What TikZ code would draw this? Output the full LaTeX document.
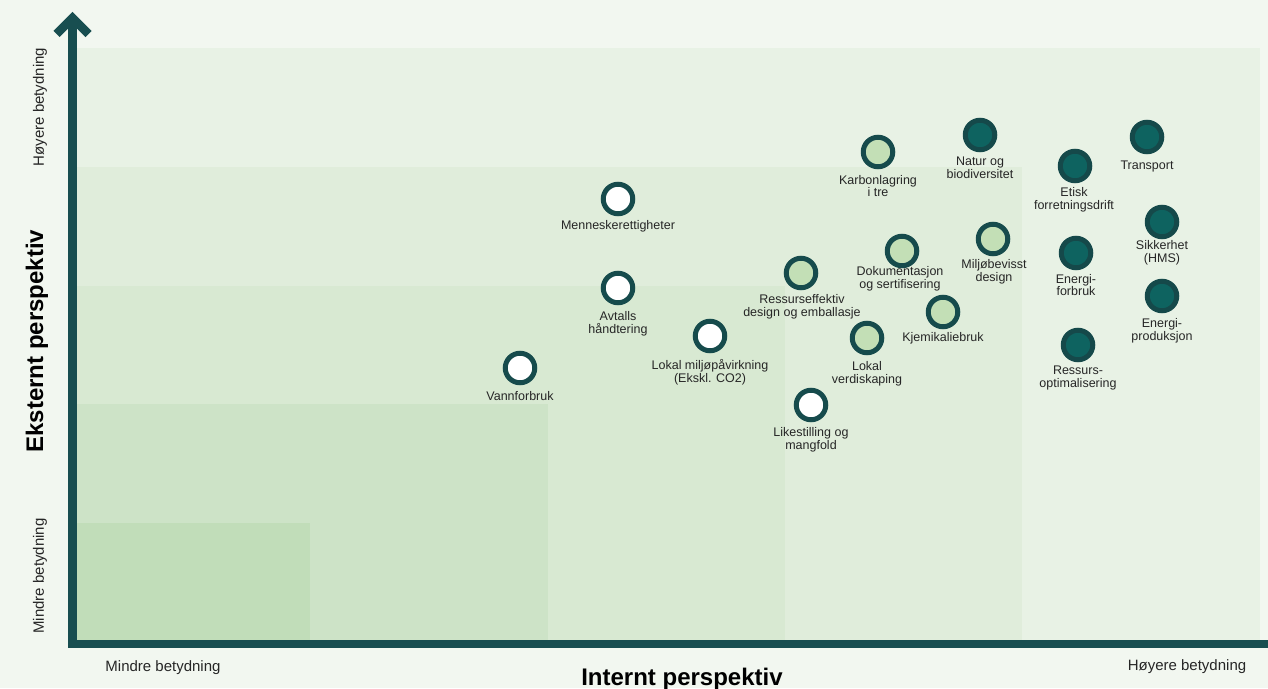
\documentclass[tikz,border=0pt]{standalone}
\usepackage{fontspec}
\setmainfont{Liberation Sans}
\definecolor{bgc}{HTML}{F2F7F0}
\definecolor{zoneA}{HTML}{E8F2E5}
\definecolor{zoneB}{HTML}{E0EDDB}
\definecolor{zoneC}{HTML}{D8E9D2}
\definecolor{zoneD}{HTML}{CDE3C7}
\definecolor{zoneE}{HTML}{C1DDB9}
\definecolor{axisc}{HTML}{184E50}
\definecolor{ringc}{HTML}{164B4C}
\definecolor{lightfill}{HTML}{C3DFB6}
\definecolor{darkfill}{HTML}{0E6360}
\definecolor{darkring}{HTML}{15494A}
\definecolor{txtc}{HTML}{262626}
\begin{document}
\begin{tikzpicture}[x=1pt,y=-1pt,
  axisline/.style={draw=axisc,line width=8.5pt,line cap=butt,line join=miter},
  dot/.style={circle,minimum size=29.5pt,inner sep=0pt,line width=5pt},
  wdot/.style={dot,draw=ringc,fill=white},
  ldot/.style={dot,draw=ringc,fill=lightfill},
  ddot/.style={dot,draw=darkring,fill=darkfill},
  lbl/.style={text=txtc,align=center,inner sep=0pt,font=\fontsize{12.5}{12.8}\selectfont},
  endlbl/.style={text=txtc,inner sep=0pt,font=\fontsize{15}{16}\selectfont},
  title/.style={text=black,inner sep=0pt,font=\fontsize{24}{26}\selectfont\bfseries}
]
\useasboundingbox (0,0) rectangle (1268,688);
\fill[bgc] (0,0) rectangle (1268,688);
% nested zones
\fill[zoneA] (77,48) rectangle (1260,640);
\fill[zoneB] (77,167) rectangle (1022,640);
\fill[zoneC] (77,286) rectangle (785,640);
\fill[zoneD] (77,404) rectangle (548,640);
\fill[zoneE] (77,523) rectangle (310,640);
% axes
\coordinate (xend) at (1268,644);
\coordinate (origin) at (72.5,644);
\coordinate (ytop) at (72.5,18);
\coordinate (armL) at (56.5,34);
\coordinate (armR) at (88.5,34);
\draw[axisline] (xend) -- (origin) -- (ytop);
\draw[axisline] (armL) -- (ytop) -- (armR);
% axis labels
\node[endlbl,rotate=90] (yhigh) at (40,107) {Høyere betydning};
\node[endlbl,rotate=90] (ylow) at (40,576) {Mindre betydning};
\node[title,rotate=90] (ytitle) at (37,341) {Eksternt perspektiv};
\node[endlbl] (xlow) at (163,668) {Mindre betydning};
\node[endlbl] (xhigh) at (1187,667) {Høyere betydning};
\node[title,anchor=base] (xtitle) at (682,685) {Internt perspektiv};
% white dots
\node[wdot] (mr) at (618,199) {};
\node[lbl] (mrl) at (618,226) {Menneskerettigheter};
\node[wdot] (av) at (618,288) {};
\node[lbl] (avl) at (618,324) {Avtalls\\håndtering};
\node[wdot] (vf) at (520,368) {};
\node[lbl] (vfl) at (520,396) {Vannforbruk};
\node[wdot] (lm) at (710,336) {};
\node[lbl] (lml) at (710,372) {Lokal miljøpåvirkning\\(Ekskl. CO2)};
\node[wdot] (lk) at (811,405) {};
\node[lbl] (lkl) at (811,440) {Likestilling og\\mangfold};
% light dots
\node[ldot] (re) at (801,273) {};
\node[lbl] (rel) at (802,307) {Ressurseffektiv\\design og emballasje};
\node[ldot] (lv) at (867,338) {};
\node[lbl] (lvl) at (867,374) {Lokal\\verdiskaping};
\node[ldot] (kt) at (878,152) {};
\node[lbl] (ktl) at (878,186) {Karbonlagring\\i tre};
\node[ldot] (ds) at (902,251) {};
\node[lbl] (dsl) at (900,279) {Dokumentasjon\\og sertifisering};
\node[ldot] (kb) at (943,312) {};
\node[lbl] (kbl) at (943,338) {Kjemikaliebruk};
\node[ldot] (md) at (993,239) {};
\node[lbl] (mdl) at (994,272) {Miljøbevisst\\design};
% dark dots
\node[ddot] (nb) at (980,135) {};
\node[lbl] (nbl) at (980,168) {Natur og\\biodiversitet};
\node[ddot] (ef) at (1075,166) {};
\node[lbl] (efl) at (1074,200) {Etisk\\forretningsdrift};
\node[ddot] (eb) at (1076,253) {};
\node[lbl] (ebl) at (1076,285) {Energi-\\forbruk};
\node[ddot] (ro) at (1078,345) {};
\node[lbl] (rol) at (1078,378) {Ressurs-\\optimalisering};
\node[ddot] (tr) at (1147,137) {};
\node[lbl] (trl) at (1147,166) {Transport};
\node[ddot] (sh) at (1162,222) {};
\node[lbl] (shl) at (1162,253) {Sikkerhet\\(HMS)};
\node[ddot] (ep) at (1162,296) {};
\node[lbl] (epl) at (1162,331) {Energi-\\produksjon};
\end{tikzpicture}
\end{document}
